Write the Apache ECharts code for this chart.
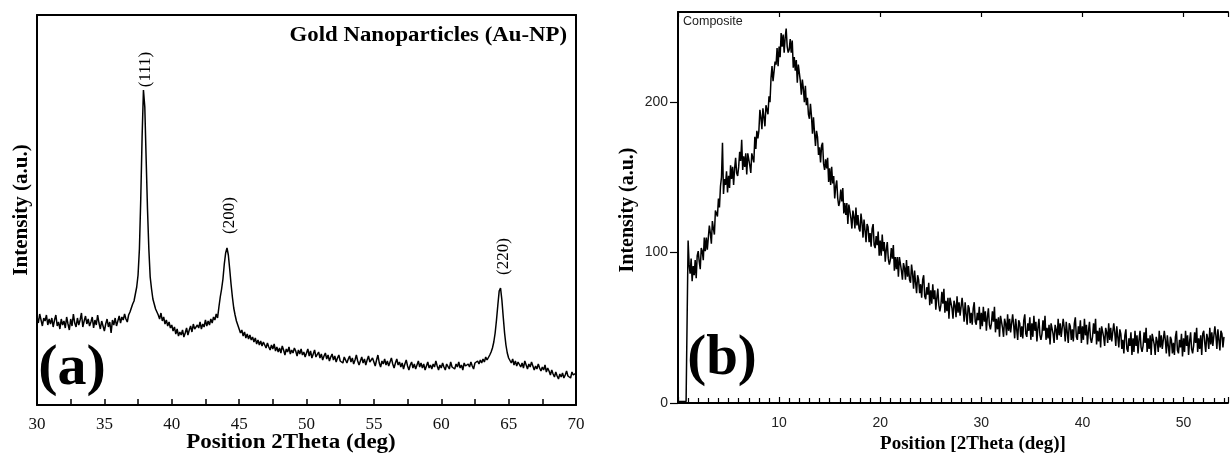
<!DOCTYPE html>
<html><head><meta charset="utf-8">
<script src="https://cdn.jsdelivr.net/npm/echarts@6/dist/echarts.min.js"></script>
<style>html,body{margin:0;padding:0;background:#fff}#c{width:1231px;height:455px}</style>
</head><body><div id="c"></div>
<script>
// Panel (a): Gold nanoparticles, 2Theta from 30 to 70 in steps of 0.1 (arbitrary intensity units)
const goldStart = 30, goldStep = 0.1;
const goldIntensity = [
  88, 82, 91, 85, 79, 87, 84, 90, 80, 86,
  81, 87, 78, 85, 90, 79, 83, 76, 86, 80,
  84, 77, 88, 81, 75, 86, 79, 91, 82, 78,
  87, 80, 85, 92, 78, 84, 89, 81, 86, 79,
  83, 88, 77, 85, 80, 90, 82, 76, 84, 79,
  74, 81, 86, 78, 83, 72, 85, 80, 87, 79,
  84, 89, 82, 88, 85, 91, 86, 83, 90, 93,
  95, 101, 104, 111, 118, 130, 156, 206, 268, 315,
  298, 246, 196, 156, 128, 116, 106, 101, 96, 93,
  90, 86, 92, 84, 88, 81, 85, 79, 83, 77,
  80, 74, 78, 71, 76, 69, 73, 70, 75, 68,
  72, 77, 70, 75, 79, 73, 81, 76, 74, 80,
  77, 83, 76, 81, 78, 85, 79, 84, 80, 86,
  82, 88, 85, 91, 87, 98, 108, 116, 126, 141,
  152, 157, 150, 136, 121, 108, 97, 90, 84, 80,
  76, 72, 75, 69, 73, 67, 71, 66, 70, 65,
  68, 63, 67, 61, 65, 60, 64, 59, 63, 61,
  57, 62, 58, 55, 60, 56, 61, 54, 58, 53,
  57, 52, 59, 55, 50, 56, 53, 58, 51, 55,
  52, 57, 54, 49, 55, 51, 56, 50, 53, 48,
  52, 56, 49, 54, 47, 51, 55, 48, 50, 53,
  47, 51, 45, 49, 52, 46, 50, 44, 48, 51,
  45, 49, 43, 47, 50, 44, 46, 42, 48, 45,
  42, 46, 49, 43, 47, 41, 45, 50, 44, 40,
  44, 48, 42, 46, 40, 45, 49, 43, 41, 47,
  43, 39, 45, 50, 42, 38, 44, 41, 46, 40,
  44, 39, 43, 47, 41, 37, 42, 46, 40, 43,
  38, 42, 36, 41, 45, 39, 35, 40, 43, 37,
  41, 36, 40, 44, 38, 42, 37, 41, 35, 39,
  43, 37, 40, 36, 41, 38, 44, 39, 35, 40,
  37, 42, 38, 35, 41, 39, 36, 43, 38, 40,
  36, 41, 38, 43, 37, 40, 35, 42, 39, 37,
  41, 38, 43, 39, 36, 42, 40, 44, 41, 45,
  42, 46, 43, 48, 45, 47, 50, 53, 57, 63,
  72, 85, 100, 114, 117, 105, 88, 72, 60, 52,
  47, 45, 42, 46, 40, 44, 39, 43, 41, 38,
  42, 37, 44, 40, 36, 41, 38, 43, 39, 35,
  39, 36, 41, 37, 34, 38, 35, 40, 33, 37,
  34, 30, 35, 31, 28, 33, 29, 26, 31, 28,
  32, 27, 30, 34, 29, 31, 27, 33, 30, 28,
  32
];
const peakHKL = ['(111)', '(200)', '(220)'];
const peakTheta = [37.9, 44.1, 64.4];

// Panel (b): Composite, 2Theta from 0 to 54 in steps of 0.1
const compStart = 0, compStep = 0.1;
const compIntensity = [
  1, 1, 1, 1, 1, 1, 1, 1, 1, 1,
  108, 92, 86, 96, 81, 91, 85, 95, 83, 98,
  101, 94, 89, 103, 101, 95, 110, 101, 110, 102,
  103, 118, 113, 106, 121, 116, 112, 128, 129, 124,
  136, 130, 144, 150, 173, 139, 149, 145, 154, 140,
  151, 143, 158, 149, 157, 145, 156, 163, 153, 151,
  157, 167, 161, 175, 155, 164, 157, 166, 152, 166,
  166, 158, 153, 166, 165, 160, 177, 169, 181, 176,
  181, 195, 190, 182, 196, 190, 184, 198, 197, 192,
  204, 200, 216, 224, 214, 215, 227, 225, 236, 224,
  237, 230, 246, 237, 245, 233, 243, 249, 237, 233,
  235, 242, 233, 241, 223, 230, 221, 228, 213, 225,
  224, 214, 205, 215, 209, 200, 211, 198, 203, 192,
  189, 199, 191, 179, 190, 180, 171, 181, 177, 165,
  170, 160, 171, 173, 159, 155, 162, 156, 163, 147,
  156, 145, 157, 146, 151, 136, 144, 148, 136, 131,
  134, 142, 134, 143, 126, 133, 125, 133, 119, 132,
  132, 123, 116, 128, 124, 116, 130, 118, 125, 116,
  114, 126, 120, 110, 122, 115, 107, 119, 117, 107,
  113, 104, 116, 119, 105, 103, 111, 105, 114, 98,
  108, 98, 112, 101, 107, 94, 102, 107, 96, 92,
  95, 103, 96, 105, 88, 97, 89, 97, 84, 97,
  97, 88, 82, 93, 90, 82, 95, 84, 91, 82,
  80, 92, 86, 76, 88, 80, 73, 85, 82, 73,
  79, 70, 82, 85, 71, 69, 77, 72, 80, 65,
  75, 66, 79, 69, 75, 62, 70, 76, 65, 61,
  65, 74, 66, 76, 60, 68, 61, 70, 56, 70,
  71, 63, 56, 68, 65, 57, 71, 60, 67, 58,
  57, 70, 63, 54, 67, 59, 52, 65, 63, 53,
  60, 52, 63, 67, 54, 52, 60, 55, 64, 49,
  60, 51, 64, 54, 61, 48, 57, 63, 52, 49,
  53, 61, 54, 64, 47, 56, 49, 57, 44, 58,
  59, 50, 44, 56, 53, 45, 59, 48, 56, 47,
  46, 59, 52, 43, 56, 49, 42, 55, 53, 44,
  51, 43, 55, 59, 46, 44, 53, 48, 57, 42,
  53, 44, 58, 48, 54, 41, 50, 56, 45, 42,
  46, 55, 48, 58, 42, 50, 43, 52, 39, 53,
  54, 46, 40, 52, 49, 42, 56, 45, 53, 44,
  43, 56, 50, 41, 54, 47, 40, 53, 51, 42,
  49, 41, 53, 57, 44, 42, 51, 46, 55, 40,
  51, 42, 56, 45, 52, 39, 48, 54, 43, 40,
  44, 53, 46, 56, 39, 48, 41, 50, 37, 51,
  52, 44, 38, 50, 47, 40, 53, 42, 50, 41,
  40, 53, 47, 38, 51, 44, 37, 49, 46, 36,
  42, 33, 45, 49, 36, 34, 43, 38, 47, 32,
  43, 34, 48, 38, 45, 33, 42, 48, 37, 34,
  38, 47, 40, 50, 34, 43, 36, 45, 32, 46,
  47, 39, 32, 44, 41, 34, 48, 37, 45, 36,
  35, 48, 42, 33, 45, 38, 31, 44, 42, 33,
  40, 32, 44, 48, 35, 33, 42, 37, 46, 31,
  43, 34, 48, 38, 45, 32, 41, 47, 36, 33,
  38, 47, 40, 50, 34, 43, 36, 45, 32, 46,
  48, 40, 34, 46, 43, 36, 50, 39, 47, 38,
  38, 51, 45, 36, 49, 42, 35, 48, 46, 37,
  44
];

const goldData = goldIntensity.map((v, i) => [+(goldStart + i * goldStep).toFixed(2), v]);
const compData = compIntensity.map((v, i) => [+(compStart + i * compStep).toFixed(2), v]);

const SERIF = '"Liberation Serif", "Times New Roman", serif';
const SANS = '"Liberation Sans", Arial, sans-serif';
const BLACK = '#000';
const line2 = { show: true, onZero: false, lineStyle: { color: BLACK, width: 2 } };

const chart = echarts.init(document.getElementById('c'), null, { renderer: 'canvas' });

const baseGraphics = [
  { type: 'text', x: 567, y: 36, scaleX: 1.14, style: { text: 'Gold Nanoparticles (Au-NP)', font: 'bold 20px ' + SERIF, fill: BLACK, textAlign: 'right', textVerticalAlign: 'middle', align: 'right', verticalAlign: 'middle' } },
  { type: 'text', x: 291, y: 443, scaleX: 1.15, style: { text: 'Position 2Theta (deg)', font: 'bold 20px ' + SERIF, fill: BLACK, textAlign: 'center', textVerticalAlign: 'middle', align: 'center', verticalAlign: 'middle' } },
  { type: 'text', x: 22, y: 210, rotation: Math.PI / 2, style: { text: 'Intensity (a.u.)', font: 'bold 21px ' + SERIF, fill: BLACK, textAlign: 'center', textVerticalAlign: 'middle', align: 'center', verticalAlign: 'middle' } },
  { type: 'text', x: 72, y: 369, style: { text: '(a)', font: 'bold 58px ' + SERIF, fill: BLACK, textAlign: 'center', textVerticalAlign: 'middle', align: 'center', verticalAlign: 'middle' } },
  { type: 'text', x: 683, y: 22, style: { text: 'Composite', font: '12.5px ' + SANS, fill: '#222', textAlign: 'left', textVerticalAlign: 'middle', align: 'left', verticalAlign: 'middle' } },
  { type: 'text', x: 973, y: 444, style: { text: 'Position [2Theta (deg)]', font: 'bold 19px ' + SERIF, fill: BLACK, textAlign: 'center', textVerticalAlign: 'middle', align: 'center', verticalAlign: 'middle' } },
  { type: 'text', x: 628, y: 210, rotation: Math.PI / 2, style: { text: 'Intensity (a.u.)', font: 'bold 20px ' + SERIF, fill: BLACK, textAlign: 'center', textVerticalAlign: 'middle', align: 'center', verticalAlign: 'middle' } },
  { type: 'text', x: 722, y: 359, style: { text: '(b)', font: 'bold 57px ' + SERIF, fill: BLACK, textAlign: 'center', textVerticalAlign: 'middle', align: 'center', verticalAlign: 'middle' } }
];

const option = {
  animation: false,
  backgroundColor: '#fff',
  grid: [
    { left: 37, top: 15, width: 539, height: 390 },
    { left: 678, top: 12, width: 556, height: 391 }
  ],
  xAxis: [
    { gridIndex: 0, type: 'value', min: 30, max: 70, interval: 5, position: 'bottom',
      axisLine: line2,
      axisTick: { show: true, inside: true, length: 6, lineStyle: { color: BLACK, width: 1.5 } },
      minorTick: { show: true, splitNumber: 2, length: 6, lineStyle: { color: BLACK, width: 1.5 } },
      splitLine: { show: false },
      axisLabel: { margin: 11, fontFamily: SERIF, fontSize: 17, color: '#111' } },
    { gridIndex: 0, type: 'value', min: 30, max: 70, position: 'top',
      axisLine: line2, axisTick: { show: false }, axisLabel: { show: false }, splitLine: { show: false } },
    { gridIndex: 1, type: 'value', min: 0, max: 54.4, interval: 10, position: 'bottom',
      axisLine: line2,
      axisTick: { show: true, inside: true, length: 6, lineStyle: { color: BLACK, width: 1.2 } },
      minorTick: { show: true, splitNumber: 10, length: 5, lineStyle: { color: BLACK, width: 1.2 } },
      splitLine: { show: false },
      axisLabel: { margin: 13, fontFamily: SANS, fontSize: 14, color: '#222',
        formatter: v => (v > 0 && Math.abs(v % 10) < 1e-9) ? String(v) : '' } },
    { gridIndex: 1, type: 'value', min: 0, max: 54.4, interval: 10, position: 'top',
      axisLine: line2,
      axisTick: { show: true, inside: true, length: 5, lineStyle: { color: BLACK, width: 1.2 } },
      axisLabel: { show: false }, splitLine: { show: false } }
  ],
  yAxis: [
    { gridIndex: 0, type: 'value', min: 0, max: 390, position: 'left',
      axisLine: line2, axisTick: { show: false }, axisLabel: { show: false }, splitLine: { show: false } },
    { gridIndex: 0, type: 'value', min: 0, max: 390, position: 'right',
      axisLine: line2, axisTick: { show: false }, axisLabel: { show: false }, splitLine: { show: false } },
    { gridIndex: 1, type: 'value', min: 0, max: 260, interval: 100, position: 'left',
      axisLine: line2,
      axisTick: { show: true, length: 8, customValues: [0, 100, 200], lineStyle: { color: BLACK, width: 1.2 } },
      axisLabel: { margin: 10, customValues: [0, 100, 200], fontFamily: SANS, fontSize: 14, color: '#222' },
      splitLine: { show: false } }
  ],
  series: [
    { type: 'line', name: 'Au-NP', xAxisIndex: 0, yAxisIndex: 0, data: goldData,
      symbol: 'none', lineStyle: { color: BLACK, width: 1.5 }, clip: true },
    { type: 'line', name: 'Composite', xAxisIndex: 2, yAxisIndex: 2, data: compData,
      symbol: 'none', lineStyle: { color: BLACK, width: 1.5 }, clip: true }
  ],
  graphic: baseGraphics
};

chart.setOption(option);

// Peak labels placed above each peak, using the chart's own coordinate conversion
const peakGap = [2, 14, 13];
const peakGraphics = peakHKL.map((txt, k) => {
  const idx = Math.round((peakTheta[k] - goldStart) / goldStep);
  const p = chart.convertToPixel({ seriesIndex: 0 }, [peakTheta[k], goldIntensity[idx]]);
  return { type: 'text', x: p[0] + 2.5, y: p[1] - peakGap[k] - 18.5, rotation: Math.PI / 2,
    style: { text: txt, font: '17px ' + SERIF, fill: BLACK, textAlign: 'center', textVerticalAlign: 'middle', align: 'center', verticalAlign: 'middle' } };
});
chart.setOption({ graphic: baseGraphics.concat(peakGraphics) });
</script>
</body></html>
